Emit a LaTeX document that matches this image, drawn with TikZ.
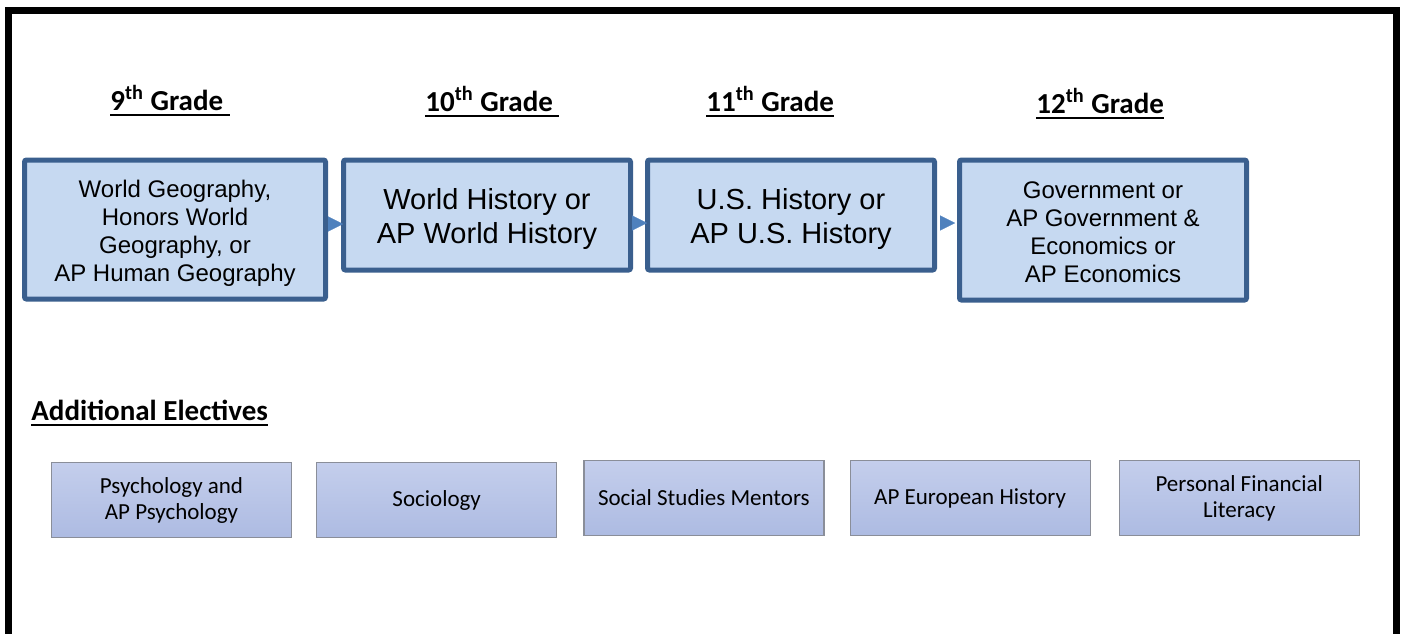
\documentclass[tikz,border=0pt]{standalone}
\usepackage{fontspec}
\setmainfont{Liberation Sans}
\newfontfamily\calibri{Carlito}
\usepackage{xcolor}
\usetikzlibrary{positioning}
\usetikzlibrary{arrows.meta}
\definecolor{boxfill}{HTML}{C6D9F1}
\definecolor{boxline}{HTML}{3A5F8E}
\definecolor{flowblue}{HTML}{4F81BD}
\definecolor{electop}{HTML}{C4CEEC}
\definecolor{elecbot}{HTML}{ADBBE2}
\definecolor{elecline}{HTML}{8A8E99}
\newcommand{\ulhead}[1]{\setbox0\hbox{#1}\rlap{\rule[-3pt]{\wd0}{1pt}}\box0}

\begin{document}
\begin{tikzpicture}[x=0.5pt,y=-0.5pt,
   gradebox/.style={draw=boxline,fill=boxfill,line width=2.5pt,rounded corners=1pt,align=center,inner sep=0pt},
   textdrop/.style={execute at begin node={\rule{0pt}{#1}}},
   electbox/.style={draw=elecline,top color=electop,bottom color=elecbot,line width=0.6pt,
      minimum width=120pt,minimum height=37.4pt,align=center,inner sep=0pt,
      font=\calibri\fontsize{11.5}{13}\selectfont},
   gradehead/.style={anchor=base west,inner sep=0pt,font=\calibri\bfseries\fontsize{14.5}{17}\selectfont},
   flow/.style={draw=flowblue,line width=0.1pt,shorten >=-1pt,-{Triangle[length=7.5pt,width=7.5pt]}}]
   \useasboundingbox (0,0) rectangle (1403,633);
   % frame
   \draw[line width=3.5pt] (8,660) -- (8,10.5) -- (1396,10.5) -- (1396,660);
   % grade headings
   \node[gradehead] (h9) at (110,110) {\ulhead{9\textsuperscript{th} Grade\ }};
   \node[gradehead] (h10) at (425,111) {\ulhead{10\textsuperscript{th} Grade\ }};
   \node[gradehead] (h11) at (706,111) {\ulhead{11\textsuperscript{th} Grade}};
   \node[gradehead] (h12) at (1036,113) {\ulhead{12\textsuperscript{th} Grade}};
   % course sequence
   \node[gradebox,textdrop=54pt,minimum width=150.5pt,minimum height=69.5pt,font=\fontsize{12}{14}\selectfont] (n9) at (175,229.5)
      {World Geography,\\ Honors World\\ Geography, or\\ AP Human Geography};
   \node[gradebox,textdrop=31.6pt,minimum width=143.5pt,minimum height=55pt,font=\fontsize{14.5}{17}\selectfont] (n10)
      [right=6.5pt of n9.north east,anchor=north west] {World History or\\ AP World History};
   \node[gradebox,textdrop=31.6pt,minimum width=143.5pt,minimum height=55pt,font=\fontsize{14.5}{17}\selectfont] (n11)
      [right=6pt of n10] {U.S. History or\\ AP U.S. History};
   \node[gradebox,textdrop=53pt,minimum width=143.5pt,minimum height=70pt,font=\fontsize{12}{14}\selectfont] (n12)
      [right=10pt of n11.north east,anchor=north west]
      {Government or\\ AP Government \&\\ Economics or\\ AP Economics};
   \draw[flow] (n9.east |- 0,224) -- (n10.west |- 0,224);
   \draw[flow] (n10.east |- 0,223) -- (n11.west |- 0,223);
   \draw[flow,shorten >=1pt,shorten <=1.5pt] (n11.east |- 0,223) -- (n12.west |- 0,223);
   % electives
   \node[gradehead] (hel) at (31,420) {\ulhead{Additional Electives}};
   \node[electbox] (e1) at (171.5,500) {Psychology and\\ AP Psychology};
   \node[electbox] (e2) [right=12pt of e1] {Sociology};
   \node[electbox] (e3) [right=13pt of e2,yshift=1pt] {Social Studies Mentors};
   \node[electbox] (e4) [right=12.5pt of e3] {AP European History};
   \node[electbox] (e5) [right=14pt of e4] {Personal Financial\\ Literacy};
\end{tikzpicture}
\end{document}
